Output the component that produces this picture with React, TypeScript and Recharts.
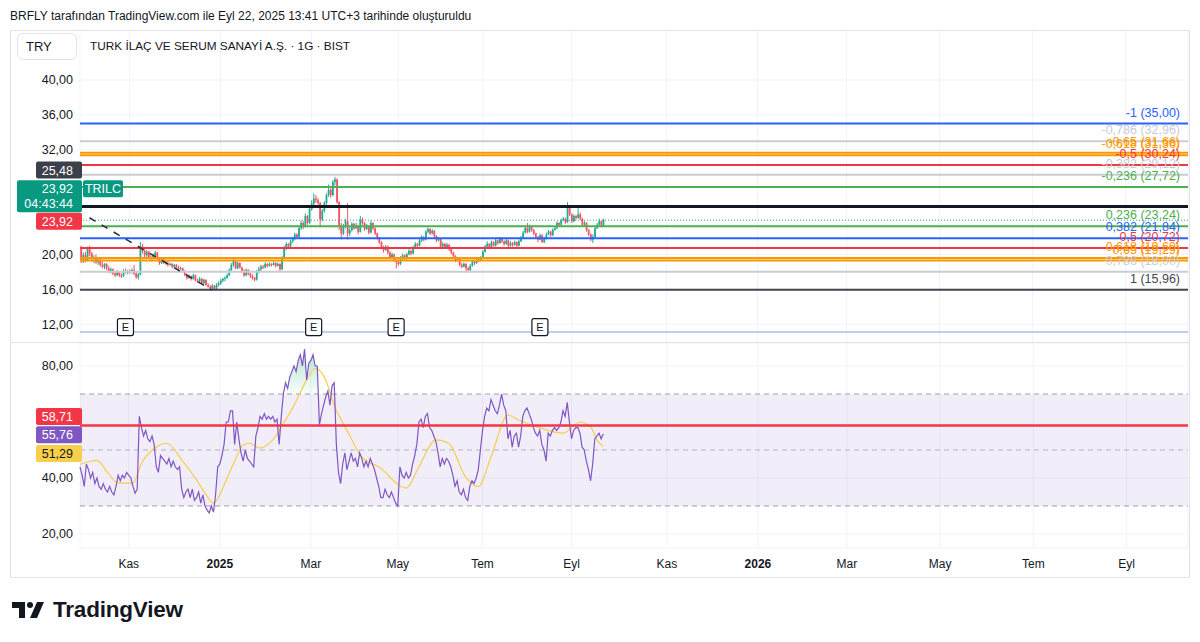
import React from "react";
import {
  Area,
  Bar,
  CartesianGrid,
  ComposedChart,
  Line,
  ReferenceArea,
  ReferenceDot,
  ReferenceLine,
  XAxis,
  YAxis,
} from "recharts";

const W = 1180;
const PRICE_H = 313;
const RSI_H = 235;
const AXIS_W = 70;
const SLOTS = 524;
const FONT = "'Liberation Sans', Arial, sans-serif";
const TEXT = "#131722";
const UP = "#22ab94";
const DOWN = "#f7525f";
const GRID = "#f0f3fa";

// time axis (bar index of each month start)
const monthTicks = [23, 66, 109, 150, 190, 232, 277, 320, 362, 406, 450, 494];
const monthLabels = ["Kas", "2025", "Mar", "May", "Tem", "Eyl", "Kas", "2026", "Mar", "May", "Tem", "Eyl"];
const yearLabels = ["2025", "2026"];

const priceTicks = [12, 16, 20, 32, 36, 40];
const rsiTicks = [20, 40, 80];

// daily candles [open, high, low, close], Oct 2024 -> Sep 22 2025
const candles: [number, number, number, number][] = [
  [20.8, 21.0, 19.0, 19.4], [19.4, 20.2, 19.0, 19.9], [19.9, 20.3, 19.1, 19.3], [19.3, 20.9, 19.2, 20.7], [20.7, 21.0, 19.8, 20.1],
  [20.1, 20.3, 19.2, 19.5], [19.5, 19.9, 19.0, 19.7], [19.7, 20.0, 18.9, 19.1], [19.1, 19.6, 18.8, 19.4], [19.4, 19.5, 18.6, 18.8],
  [18.8, 19.2, 18.4, 18.6], [18.6, 19.0, 18.3, 18.9], [18.9, 19.0, 18.2, 18.4], [18.4, 18.7, 17.9, 18.1], [18.1, 18.5, 17.8, 18.3],
  [18.3, 18.4, 17.6, 17.8], [17.8, 18.0, 17.4, 17.6], [17.6, 18.2, 17.5, 18.0], [18.0, 18.1, 17.4, 17.6], [17.6, 17.8, 17.3, 17.5],
  [17.5, 18.3, 17.4, 18.1], [18.1, 18.4, 17.8, 17.9], [17.9, 18.2, 17.7, 18.1], [18.1, 18.3, 17.8, 18.0], [18.0, 18.4, 17.8, 18.2],
  [18.2, 18.8, 17.6, 17.8], [17.8, 18.0, 17.2, 17.4], [17.4, 17.9, 17.1, 17.7], [17.7, 21.4, 17.6, 20.9], [20.9, 21.2, 20.1, 20.4],
  [20.4, 20.6, 19.6, 19.9], [19.9, 20.5, 19.7, 20.3], [20.3, 20.4, 19.5, 19.7], [19.7, 19.9, 19.2, 19.5], [19.5, 20.1, 19.4, 19.9],
  [19.9, 20.4, 19.7, 20.2], [20.2, 20.3, 19.3, 19.5], [19.5, 19.7, 18.8, 19.0], [19.0, 19.6, 18.9, 19.4], [19.4, 19.5, 18.9, 19.1],
  [19.1, 19.3, 18.8, 19.0], [19.0, 19.2, 18.6, 18.8], [18.8, 19.1, 18.7, 18.9], [18.9, 19.0, 18.4, 18.6], [18.6, 18.9, 18.5, 18.8],
  [18.8, 18.9, 18.3, 18.5], [18.5, 18.7, 18.1, 18.3], [18.3, 18.6, 18.2, 18.4], [18.4, 18.5, 17.9, 18.1], [18.1, 18.2, 17.5, 17.6],
  [17.6, 17.8, 17.1, 17.3], [17.3, 17.7, 17.2, 17.5], [17.5, 17.6, 17.0, 17.2], [17.2, 17.8, 17.1, 17.6], [17.6, 17.7, 16.9, 17.0],
  [17.0, 17.2, 16.7, 16.9], [16.9, 17.4, 16.8, 17.2], [17.2, 17.3, 16.6, 16.7], [16.7, 17.2, 16.6, 17.1], [17.1, 17.1, 16.4, 16.5],
  [16.5, 16.7, 16.2, 16.3], [16.3, 16.5, 16.0, 16.1], [16.1, 16.6, 16.0, 16.4], [16.4, 16.5, 15.96, 16.0], [16.0, 16.7, 15.96, 16.5],
  [16.5, 16.9, 16.3, 16.7], [16.7, 17.2, 16.5, 17.0], [17.0, 17.3, 16.8, 17.2], [17.2, 17.5, 16.9, 17.3], [17.3, 17.8, 17.2, 17.6],
  [17.6, 18.4, 17.5, 18.2], [18.2, 19.0, 18.0, 18.8], [18.8, 19.5, 18.6, 19.3], [19.3, 19.4, 18.3, 18.4], [18.4, 19.2, 18.3, 19.0],
  [19.0, 19.1, 18.4, 18.5], [18.5, 18.6, 17.9, 18.1], [18.1, 18.3, 17.4, 17.6], [17.6, 18.4, 17.5, 18.2], [18.2, 18.3, 17.6, 17.8],
  [17.8, 17.9, 17.3, 17.5], [17.5, 17.7, 17.1, 17.3], [17.3, 17.4, 16.9, 17.1], [17.1, 18.2, 17.0, 18.0], [18.0, 18.6, 17.8, 18.3],
  [18.3, 18.8, 18.1, 18.6], [18.6, 18.8, 18.3, 18.5], [18.5, 19.1, 18.4, 18.9], [18.9, 19.0, 18.5, 18.7], [18.7, 19.1, 18.6, 18.9],
  [18.9, 19.0, 18.6, 18.8], [18.8, 19.2, 18.7, 19.0], [19.0, 19.1, 18.5, 18.7], [18.7, 19.1, 18.6, 18.9], [18.9, 19.0, 18.1, 18.3],
  [18.3, 19.8, 18.2, 19.6], [19.6, 21.0, 19.5, 20.8], [20.8, 21.4, 20.5, 21.2], [21.2, 21.3, 20.6, 20.9], [20.9, 21.7, 20.8, 21.5],
  [21.5, 22.0, 21.3, 21.8], [21.8, 22.5, 21.6, 22.3], [22.3, 22.4, 21.8, 22.0], [22.0, 23.2, 21.9, 23.0], [23.0, 23.9, 22.8, 23.6],
  [23.6, 23.8, 22.9, 23.2], [23.2, 24.7, 23.1, 24.4], [24.4, 24.5, 23.4, 23.6], [23.6, 25.4, 23.5, 25.2], [25.2, 26.2, 25.0, 25.8],
  [25.8, 27.0, 25.6, 26.4], [26.4, 26.8, 25.9, 26.2], [26.2, 26.5, 25.7, 25.9], [25.9, 26.0, 23.1, 24.0], [24.0, 25.2, 23.8, 25.0],
  [25.0, 26.1, 24.8, 25.9], [25.9, 27.0, 25.7, 26.8], [26.8, 28.0, 26.6, 27.4], [27.4, 27.6, 26.5, 26.8], [26.8, 28.5, 26.7, 28.3],
  [28.3, 28.9, 27.9, 28.6], [28.6, 28.7, 25.8, 26.0], [26.0, 26.1, 22.8, 23.3], [23.3, 23.6, 21.7, 22.4], [22.4, 23.5, 22.2, 23.2],
  [23.2, 24.1, 23.0, 23.8], [23.8, 25.9, 21.7, 22.4], [22.4, 23.1, 22.1, 22.8], [22.8, 23.7, 22.6, 23.5], [23.5, 23.6, 22.8, 23.0],
  [23.0, 23.6, 22.9, 23.3], [23.3, 23.4, 22.3, 22.6], [22.6, 24.4, 22.5, 24.0], [24.0, 24.2, 23.4, 23.6], [23.6, 23.7, 22.7, 22.9],
  [22.9, 23.5, 22.8, 23.2], [23.2, 23.3, 22.3, 22.5], [22.5, 23.9, 22.4, 23.6], [23.6, 23.7, 22.8, 23.0], [23.0, 23.1, 22.2, 22.4],
  [22.4, 22.5, 21.7, 21.9], [21.9, 22.0, 21.2, 21.4], [21.4, 21.5, 20.6, 20.8], [20.8, 21.0, 20.2, 20.5], [20.5, 21.1, 20.4, 20.9],
  [20.9, 21.0, 20.0, 20.2], [20.2, 20.4, 19.5, 19.7], [19.7, 20.2, 19.6, 20.0], [20.0, 20.1, 19.2, 19.4], [19.4, 19.6, 18.4, 19.1],
  [19.1, 19.3, 18.7, 18.9], [18.9, 19.8, 18.8, 19.6], [19.6, 20.1, 19.4, 19.9], [19.9, 20.0, 19.3, 19.5], [19.5, 20.2, 19.4, 20.0],
  [20.0, 20.6, 19.9, 20.4], [20.4, 20.5, 19.9, 20.1], [20.1, 21.0, 20.0, 20.8], [20.8, 21.4, 20.6, 21.2], [21.2, 21.3, 20.7, 21.0],
  [21.0, 21.8, 20.9, 21.6], [21.6, 22.2, 21.4, 22.0], [22.0, 22.1, 21.5, 21.7], [21.7, 22.8, 21.6, 22.6], [22.6, 23.1, 22.4, 22.9],
  [22.9, 23.0, 22.2, 22.4], [22.4, 22.9, 22.3, 22.7], [22.7, 22.8, 21.9, 22.1], [22.1, 22.2, 21.4, 21.6], [21.6, 22.0, 21.5, 21.8],
  [21.8, 21.9, 20.7, 20.9], [20.9, 21.4, 20.8, 21.2], [21.2, 21.3, 20.6, 20.8], [20.8, 21.3, 20.7, 21.1], [21.1, 21.2, 20.4, 20.6],
  [20.6, 20.7, 20.0, 20.2], [20.2, 20.3, 19.6, 19.8], [19.8, 19.9, 19.1, 19.3], [19.3, 19.7, 19.2, 19.5], [19.5, 19.6, 18.6, 18.8],
  [18.8, 19.0, 18.4, 18.6], [18.6, 19.1, 18.5, 18.9], [18.9, 19.0, 17.9, 18.4], [18.4, 18.6, 18.0, 18.2], [18.2, 18.9, 18.1, 18.7],
  [18.7, 19.4, 18.6, 19.2], [19.2, 19.3, 18.8, 19.0], [19.0, 19.6, 18.9, 19.4], [19.4, 19.5, 19.1, 19.3], [19.3, 19.8, 19.2, 19.6],
  [19.6, 20.5, 19.5, 20.3], [20.3, 21.1, 20.2, 20.9], [20.9, 21.5, 20.7, 21.2], [21.2, 21.3, 20.6, 20.8], [20.8, 21.6, 20.7, 21.4],
  [21.4, 21.5, 20.9, 21.0], [21.0, 21.8, 20.9, 21.6], [21.6, 21.7, 21.1, 21.3], [21.3, 22.0, 21.2, 21.8], [21.8, 21.9, 21.3, 21.5],
  [21.5, 21.6, 21.0, 21.2], [21.2, 21.8, 21.1, 21.6], [21.6, 21.7, 20.8, 21.0], [21.0, 21.5, 20.9, 21.3], [21.3, 21.4, 20.9, 21.1],
  [21.1, 21.6, 21.0, 21.4], [21.4, 21.5, 20.8, 21.0], [21.0, 21.7, 20.9, 21.5], [21.5, 22.1, 21.4, 21.9], [21.9, 22.7, 21.8, 22.5],
  [22.5, 23.3, 22.4, 23.0], [23.0, 23.6, 22.4, 22.6], [22.6, 23.4, 22.5, 23.2], [23.2, 23.3, 22.6, 22.8], [22.8, 22.9, 22.2, 22.4],
  [22.4, 22.5, 21.8, 22.0], [22.0, 22.1, 21.4, 21.7], [21.7, 22.4, 21.6, 22.2], [22.2, 22.3, 21.3, 21.4], [21.4, 22.0, 21.3, 21.8],
  [21.8, 22.5, 21.7, 22.3], [22.3, 22.8, 22.2, 22.6], [22.6, 22.7, 22.0, 22.2], [22.2, 23.0, 22.1, 22.8], [22.8, 23.2, 22.7, 23.0],
  [23.0, 23.8, 22.9, 23.6], [23.6, 23.7, 23.2, 23.4], [23.4, 24.1, 23.3, 23.9], [23.9, 24.3, 23.8, 24.1], [24.1, 24.2, 23.5, 23.7],
  [23.7, 26.0, 23.6, 25.3], [25.3, 25.5, 24.4, 24.6], [24.6, 24.7, 23.6, 23.8], [23.8, 24.6, 23.7, 24.4], [24.4, 24.5, 23.9, 24.2],
  [24.2, 25.3, 24.1, 24.6], [24.6, 24.8, 23.9, 24.1], [24.1, 24.2, 23.2, 23.4], [23.4, 23.8, 23.2, 23.6], [23.6, 23.7, 22.6, 22.8],
  [22.8, 22.9, 22.1, 22.3], [22.3, 22.4, 21.5, 21.7], [21.7, 22.3, 21.3, 22.0], [22.0, 23.2, 21.9, 23.0], [23.0, 23.6, 22.9, 23.4],
  [23.4, 24.1, 23.3, 23.8], [23.8, 23.9, 23.1, 23.3], [23.3, 24.1, 23.2, 23.92],
];

// RSI (14) per bar
const rsiValues = [
  44, 41, 37, 45, 43, 40, 42, 38, 40, 37,
  36, 38, 36, 35, 37, 35, 34, 37, 41, 39,
  41, 40, 42, 41, 40, 37, 34.6, 36, 62, 58,
  55, 57, 54, 53, 55, 52, 44, 42, 48, 47,
  46, 45, 47, 44, 46, 44, 43, 44, 36, 33,
  35, 36, 33, 36, 32, 33, 35, 31, 34, 30,
  28.5, 27.5, 30, 27.8, 34, 44, 45, 48, 52, 60,
  60, 64, 64, 52, 60, 54, 49, 46, 50, 47,
  46, 45, 44, 55, 58, 62, 61, 63, 61, 62,
  61, 62, 60, 61, 52, 62, 70, 74, 72, 76,
  78, 80, 78, 82, 84, 80, 86, 75, 81, 82,
  84, 80, 80, 59, 63, 66, 69, 71, 66, 73,
  74, 52, 42, 38, 45, 49, 43, 46, 49, 46,
  47, 44, 49, 47, 44, 46, 44, 47, 45, 43,
  40, 37, 33, 33, 36, 34, 33, 35, 33, 31,
  30, 44, 41, 40, 42, 40, 41, 45, 48, 52,
  60, 61, 58, 62, 63, 58, 57, 55, 53, 49,
  44, 47, 45, 47, 46, 44, 41, 37, 39, 35,
  34, 36, 33, 32, 37, 39, 38, 40, 43, 50,
  57, 62, 65, 64, 68, 66, 64, 63, 66, 70,
  66, 64, 54, 57, 51, 55, 56, 51, 55, 62,
  64, 65, 63, 61, 58, 56, 55, 57, 52, 50,
  46, 56, 55, 57, 58, 57, 58, 60, 64, 62,
  67, 60, 54, 57, 58, 58, 56, 51, 50, 46,
  43, 39, 45, 54, 55, 56, 54, 55.76,
];

// RSI-based MA, read at turning points [bar, value]
const rsiMaPoints: [number, number][] = [
  [0, 44.8], [4, 45.8], [8, 46.3], [13, 42], [18, 38.2], [25, 38.2], [29, 45.2], [35, 50.5],
  [41, 52.4], [48, 46.5], [55, 39.3], [60, 33.5], [63, 31], [66, 34], [69, 39.3], [73, 46],
  [77, 51.8], [80, 52.4], [85, 50.7], [91, 53.6], [96, 59.5], [100, 64.5], [104, 70.5], [108, 76.5],
  [111, 79.2], [113, 78.5], [116, 75], [120, 66], [126, 57], [133, 47.5], [141, 44], [154, 36.4],
  [160, 44], [168, 53.6], [174, 52.4], [182, 40.4], [188, 36.9], [194, 47.5], [202, 62.5], [207, 60.7],
  [217, 57.9], [228, 56], [236, 60], [241, 58.3], [244, 53.6], [247, 51.29],
];

// Fibonacci retracement drawn from 25,48 to 15,96
const fibRatios = ["-1", "-0,786", "-0,65", "-0,618", "-0,5", "-0,382", "-0,236", "0", "0,236", "0,382", "0,5", "0,618", "0,65", "0,786", "1"];
const fibPrices = [35.0, 32.96, 31.66, 31.36, 30.24, 29.12, 27.72, 25.48, 23.24, 21.84, 20.72, 19.6, 19.29, 18.0, 15.96];
const FIB_COLORS = ["#2962ff", "#c9ccd3", "#ff9800", "#ff9800", "#f23645", "#c9ccd3", "#4caf50", "#131722", "#4caf50", "#2962ff", "#f23645", "#ff9800", "#ff9800", "#c9ccd3", "#434651"];

const earningsBars = [21, 110, 149, 217];
const earningsLevel = 11.67;
const trendLine = [{ x: 4, y: 24.2 }, { x: 62, y: 15.9 }];
const lastPrice = 23.92;
const levelLine = 11.1;
const rsiLine = 58.71;
const rsiLast = 55.76;
const rsiMaLast = 51.29;
const countdown = "04:43:44";
const symbol = "TRILC";

const maByBar = new Map(rsiMaPoints);
const rows = Array.from({ length: SLOTS }, (_, i) => {
  const k = candles[i];
  return {
    idx: i,
    o: k ? k[0] : null,
    h: k ? k[1] : null,
    l: k ? k[2] : null,
    c: k ? k[3] : null,
    rsi: i < rsiValues.length ? rsiValues[i] : null,
    ma: maByBar.has(i) ? maByBar.get(i) : null,
  };
});

const fmt = (v: number) => v.toFixed(2).replace(".", ",");

const Candle = (props: any) => {
  const { x, y, width, height, payload } = props;
  if (payload == null || payload.h == null) return null;
  const top = Math.min(y, y + height);
  const bot = Math.max(y, y + height);
  const k = (bot - top) / (payload.h - payload.l || 1);
  const yO = top + (payload.h - payload.o) * k;
  const yC = top + (payload.h - payload.c) * k;
  const color = payload.c >= payload.o ? UP : DOWN;
  const cx = x + width / 2;
  return (
    <g>
      <line x1={cx} x2={cx} y1={top} y2={bot} stroke={color} strokeWidth={1} />
      <rect x={cx - 0.9} y={Math.min(yO, yC)} width={1.8} height={Math.max(Math.abs(yC - yO), 1)} fill={color} />
    </g>
  );
};

const fibLabel = (text: string, color: string) => (props: any) => {
  const vb = props.viewBox;
  return (
    <text x={vb.x + vb.width - 8} y={vb.y - 7} textAnchor="end" fill={color} fontSize={12.5} fontFamily={FONT}>
      {text}
    </text>
  );
};

// price-scale badge drawn left of the plot
function Badge({ x, cy, lines, bg, fg, left, width }: any) {
  const h = lines.length > 1 ? 32 : 17;
  const top = cy - h / 2;
  return (
    <g>
      <rect x={x - left} y={top} width={width} height={h} rx={2} fill={bg} />
      {lines.map((t: string, k: number) => (
        <text key={k} x={x - 7} y={top + 13 + k * 15} textAnchor="end" fill={fg} fontSize={12.5} fontFamily={FONT}>
          {t}
        </text>
      ))}
    </g>
  );
}

const EMarker = (props: any) => {
  const { cx, cy } = props;
  return (
    <g>
      <rect x={cx - 8} y={cy - 8.5} width={16} height={17} rx={2} fill="#fff" stroke={TEXT} strokeWidth={1.2} />
      <text x={cx} y={cy + 4} textAnchor="middle" fill={TEXT} fontSize={11} fontFamily={FONT}>E</text>
    </g>
  );
};

const MonthTick = (props: any) => {
  const { x, y, payload } = props;
  const label = monthLabels[monthTicks.indexOf(payload.value)];
  return (
    <text x={x} y={y + 18} textAnchor="middle" fill={TEXT} fontSize={12} fontFamily={FONT}
      fontWeight={yearLabels.includes(label) ? 700 : 400}>
      {label}
    </text>
  );
};

const yTick = { fill: TEXT, fontSize: 12.5, fontFamily: FONT };

function PricePanel() {
  return (
    <ComposedChart width={W} height={PRICE_H} data={rows} margin={{ top: 0, right: 2, left: 0, bottom: 0 }}>
      <CartesianGrid stroke={GRID} />
      <XAxis dataKey="idx" hide ticks={monthTicks} interval={0} />
      <YAxis
        domain={[9.84, 45.73]}
        ticks={priceTicks}
        allowDataOverflow
        width={AXIS_W}
        axisLine={false}
        tickLine={false}
        tickSize={0}
        tickMargin={7}
        tick={yTick}
        tickFormatter={fmt}
      />
      <ReferenceLine y={levelLine} stroke="#a9bdf0" strokeWidth={1.5} />
      {fibPrices.map((p, k) => (
        <ReferenceLine
          key={k}
          y={p}
          stroke={FIB_COLORS[k]}
          strokeWidth={fibRatios[k] === "0" ? 3 : 2}
          label={fibRatios[k] === "0"
            ? (props: any) => (
                <Badge x={props.viewBox.x} cy={props.viewBox.y - 36.6} lines={[fmt(p)]} bg="#3c404b" fg="#fff" left={44} width={46} />
              )
            : fibLabel(`${fibRatios[k]} (${fmt(p)})`, FIB_COLORS[k])}
        />
      ))}
      <ReferenceLine
        segment={trendLine}
        stroke="#2a2e39"
        strokeWidth={1.5}
        strokeDasharray="7 7"
      />
      <Bar dataKey={(d: any) => (d.h == null ? null : [d.l, d.h])} shape={Candle} isAnimationActive={false} />
      <ReferenceLine
        y={lastPrice}
        stroke="#3f9a96"
        strokeDasharray="1 2"
        label={(props: any) => {
          const vb = props.viewBox;
          return (
            <g>
              <Badge x={vb.x} cy={vb.y - 24} lines={[fmt(lastPrice), countdown]} bg="#089981" fg="#fff" left={63} width={65} />
              <rect x={vb.x + 3} y={vb.y - 40} width={40} height={17} rx={2} fill="#089981" />
              <text x={vb.x + 23} y={vb.y - 27} textAnchor="middle" fill="#fff" fontSize={12.5} fontFamily={FONT}>{symbol}</text>
              <Badge x={vb.x} cy={vb.y + 1} lines={[fmt(lastPrice)]} bg="#f23645" fg="#fff" left={44} width={46} />
            </g>
          );
        }}
      />
      {earningsBars.map((b) => (
        <ReferenceDot key={b} x={b} y={earningsLevel} r={0} shape={EMarker} />
      ))}
    </ComposedChart>
  );
}

function RsiPanel() {
  return (
    <ComposedChart width={W} height={RSI_H} data={rows} margin={{ top: 0, right: 2, left: 0, bottom: 0 }}>
      <defs>
        <linearGradient id="obFill" x1="0" y1="0" x2="0" y2="1">
          <stop offset="0%" stopColor="#2eb872" stopOpacity={0.6} />
          <stop offset="100%" stopColor="#2eb872" stopOpacity={0.05} />
        </linearGradient>
        <linearGradient id="osFill" x1="0" y1="1" x2="0" y2="0">
          <stop offset="0%" stopColor="#f23645" stopOpacity={0.35} />
          <stop offset="100%" stopColor="#f23645" stopOpacity={0} />
        </linearGradient>
      </defs>
      <CartesianGrid stroke={GRID} />
      <XAxis
        dataKey="idx"
        ticks={monthTicks}
        interval={0}
        height={30}
        axisLine={false}
        tickLine={false}
        tickSize={0}
        tick={(p: any) => <MonthTick {...p} />}
      />
      <YAxis
        domain={[15, 88.21]}
        ticks={rsiTicks}
        allowDataOverflow
        width={AXIS_W}
        axisLine={false}
        tickLine={false}
        tickSize={0}
        tickMargin={7}
        tick={yTick}
        tickFormatter={fmt}
      />
      <ReferenceArea y1={30} y2={70} fill="#7e57c2" fillOpacity={0.1} stroke="none" />
      <ReferenceLine y={70} stroke="#787b86" strokeOpacity={0.7} strokeDasharray="5 4" />
      <ReferenceLine y={50} stroke="#787b86" strokeOpacity={0.5} strokeDasharray="5 4" />
      <ReferenceLine y={30} stroke="#787b86" strokeOpacity={0.7} strokeDasharray="5 4" />
      <Area
        dataKey={(d: any) => (d.rsi != null && d.rsi > 70 ? [70, d.rsi] : null)}
        fill="url(#obFill)"
        stroke="none"
        type="linear"
        isAnimationActive={false}
      />
      <Area
        dataKey={(d: any) => (d.rsi != null && d.rsi < 30 ? [d.rsi, 30] : null)}
        fill="url(#osFill)"
        stroke="none"
        type="linear"
        isAnimationActive={false}
      />
      <Line dataKey="ma" type="monotone" connectNulls stroke="#f5cd4f" strokeWidth={1.2} dot={false} isAnimationActive={false} />
      <Line dataKey="rsi" type="linear" stroke="#7e57c2" strokeWidth={1.2} dot={false} isAnimationActive={false} />
      <ReferenceLine
        y={rsiLine}
        stroke="#f23645"
        strokeWidth={2.5}
        label={(props: any) => (
          <Badge x={props.viewBox.x} cy={props.viewBox.y - 9} lines={[fmt(rsiLine)]} bg="#f23645" fg="#fff" left={44} width={46} />
        )}
      />
      <ReferenceLine
        y={rsiLast}
        strokeOpacity={0}
        label={(props: any) => (
          <Badge x={props.viewBox.x} cy={props.viewBox.y + 1} lines={[fmt(rsiLast)]} bg="#7e57c2" fg="#fff" left={44} width={46} />
        )}
      />
      <ReferenceLine
        y={rsiMaLast}
        strokeOpacity={0}
        label={(props: any) => (
          <Badge x={props.viewBox.x} cy={props.viewBox.y + 7} lines={[fmt(rsiMaLast)]} bg="#f7cf4a" fg={TEXT} left={44} width={46} />
        )}
      />
    </ComposedChart>
  );
}

function Logo() {
  return (
    <div style={{ position: "absolute", left: 12, top: 597, display: "flex", alignItems: "center" }}>
      <svg width={36} height={20} viewBox="0 0 36 20">
        <path d="M0 2h13v16h-6V8H0z" fill={TEXT} />
        <circle cx={18} cy={5} r={3} fill={TEXT} />
        <path d="M25 2h7l-7 16h-7z" fill={TEXT} />
      </svg>
      <span style={{ marginLeft: 5, fontSize: 22.5, fontWeight: 700, color: TEXT, letterSpacing: -0.2 }}>TradingView</span>
    </div>
  );
}

export default function App() {
  return (
    <div
      style={{
        position: "absolute",
        left: 0,
        top: 0,
        width: 1200,
        height: 642,
        background: "#fff",
        fontFamily: FONT,
        color: TEXT,
        overflow: "hidden",
      }}
    >
      <div style={{ position: "absolute", left: 10, top: 9, fontSize: 12 }}>
        BRFLY tarafından TradingView.com ile Eyl 22, 2025 13:41 UTC+3 tarihinde oluşturuldu
      </div>
      <div style={{ position: "absolute", left: 10, top: 30 }}>
        <PricePanel />
      </div>
      <div style={{ position: "absolute", left: 10, top: 343 }}>
        <RsiPanel />
      </div>
      <div style={{ position: "absolute", left: 10, top: 342, width: 1180, height: 1, background: "#e0e3eb" }} />
      <div
        style={{
          position: "absolute",
          left: 10,
          top: 30,
          width: 1180,
          height: 548,
          border: "1px solid #e0e3eb",
          boxSizing: "border-box",
          pointerEvents: "none",
        }}
      />
      <div
        style={{
          position: "absolute",
          left: 17,
          top: 33,
          width: 60,
          height: 27,
          border: "1px solid #e0e3eb",
          borderRadius: 6,
          boxSizing: "border-box",
          background: "#fff",
          fontSize: 13,
          lineHeight: "25px",
          paddingLeft: 8,
        }}
      >
        TRY
      </div>
      <div style={{ position: "absolute", left: 90, top: 39, fontSize: 11.8 }}>
        TURK İLAÇ VE SERUM SANAYİ A.Ş. · 1G · BIST
      </div>
      <Logo />
    </div>
  );
}
